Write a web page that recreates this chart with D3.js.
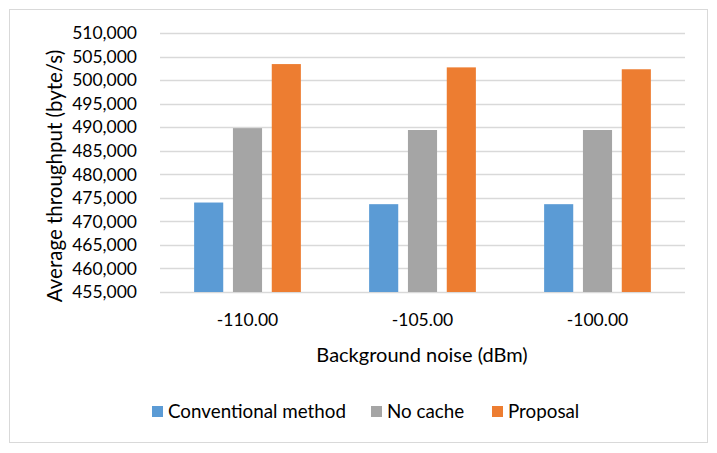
<!DOCTYPE html>
<html lang="en">
<head>
<meta charset="utf-8">
<script src="https://cdn.jsdelivr.net/npm/d3@7"></script>
<style>
  body { margin: 0; background: #fff; }
  text { font-family: Lato, "Open Sans", sans-serif; fill: #000; }
</style>
</head>
<body>
<svg id="chart"></svg>
<script>
var width = 717, height = 453;

var categories = ["-110.00", "-105.00", "-100.00"];
var seriesNames = ["Conventional method", "No cache", "Proposal"];
var conventional = [474000, 473650, 473650];
var noCache = [489800, 489400, 489400];
var proposal = [503400, 502700, 502300];
var yTicks = [455000, 460000, 465000, 470000, 475000, 480000, 485000, 490000, 495000, 500000, 505000, 510000];
var colors = ["#5B9BD5", "#A5A5A5", "#ED7D31"];

var seriesValues = [conventional, noCache, proposal];
var margin = {left: 160, right: 32, top: 33, bottom: 161};

var svg = d3.select('#chart').attr('width', width).attr('height', height);

// outer chart border
svg.append('rect')
  .attr('x', 9.5).attr('y', 9.5)
  .attr('width', 698).attr('height', 433)
  .attr('fill', '#fff').attr('stroke', '#D9D9D9');

var x0 = d3.scaleBand().domain(categories)
  .range([margin.left, width - margin.right]).paddingInner(0.39).paddingOuter(0.195);
var x1 = d3.scaleBand().domain(seriesNames)
  .range([0, x0.bandwidth()]).paddingInner(0.25);
var y = d3.scaleLinear().domain([455000, 510000])
  .range([height - margin.bottom, margin.top]);

// gridlines
svg.append('g').selectAll('line').data(yTicks).enter()
  .append('line')
  .attr('x1', margin.left).attr('x2', width - margin.right)
  .attr('y1', function(d){ return Math.round(y(d)) + 0.5; })
  .attr('y2', function(d){ return Math.round(y(d)) + 0.5; })
  .attr('stroke', '#D9D9D9').attr('stroke-width', 1.3);

// y tick labels
svg.append('g').selectAll('text').data(yTicks).enter()
  .append('text')
  .attr('x', 137)
  .attr('y', function(d){ return y(d); })
  .attr('dy', '0.36em')
  .attr('text-anchor', 'end')
  .style('font-size', '17.5px')
  .text(d3.format(','));

// bars
var groups = svg.append('g').selectAll('g').data(categories).enter()
  .append('g')
  .attr('transform', function(d){ return 'translate(' + x0(d) + ',0)'; });

groups.selectAll('rect')
  .data(function(d, i){
    return seriesNames.map(function(s, j){ return {s: s, v: seriesValues[j][i], c: colors[j]}; });
  }).enter()
  .append('rect')
  .attr('x', function(d){ return x1(d.s); })
  .attr('width', x1.bandwidth())
  .attr('y', function(d){ return y(d.v); })
  .attr('height', function(d){ return y(455000) - y(d.v); })
  .attr('fill', function(d){ return d.c; });

// x tick labels
svg.append('g').selectAll('text').data(categories).enter()
  .append('text')
  .attr('x', function(d){ return x0(d) + x0.bandwidth() / 2; })
  .attr('y', 326)
  .attr('text-anchor', 'middle')
  .style('font-size', '17.5px')
  .text(function(d){ return d; });

// axis titles
svg.append('text')
  .attr('x', 422).attr('y', 362)
  .attr('text-anchor', 'middle')
  .style('font-size', '20px')
  .text('Background noise (dBm)');

svg.append('text')
  .attr('transform', 'translate(62,176) rotate(-90)')
  .attr('text-anchor', 'middle')
  .style('font-size', '20.5px')
  .text('Average throughput (byte/s)');

// legend
var legendX = [152, 371, 492];
var legend = svg.append('g').selectAll('g').data(seriesNames).enter()
  .append('g')
  .attr('transform', function(d, i){ return 'translate(' + legendX[i] + ',406)'; });
legend.append('rect')
  .attr('width', 11).attr('height', 11)
  .attr('fill', function(d, i){ return colors[i]; });
legend.append('text')
  .attr('x', 16).attr('y', 11.5)
  .style('font-size', '18.8px')
  .text(function(d){ return d; });
</script>
</body>
</html>
